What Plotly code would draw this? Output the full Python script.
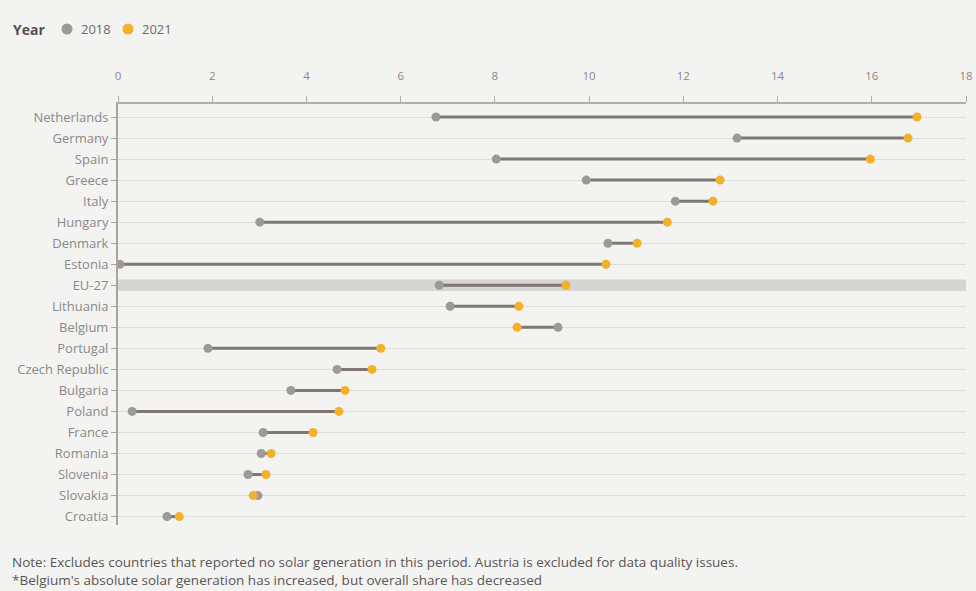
import plotly.graph_objects as go

countries = ["Netherlands", "Germany", "Spain", "Greece", "Italy", "Hungary", "Denmark",
             "Estonia", "EU-27", "Lithuania", "Belgium", "Portugal", "Czech Republic",
             "Bulgaria", "Poland", "France", "Romania", "Slovenia", "Slovakia", "Croatia"]
share_2018 = [6.75, 13.14, 8.03, 9.94, 11.83, 3.01, 10.40, 0.04, 6.82, 7.05, 9.34, 1.91,
              4.65, 3.67, 0.30, 3.08, 3.04, 2.76, 2.97, 1.04]
share_2021 = [16.96, 16.77, 15.97, 12.78, 12.63, 11.66, 11.02, 10.36, 9.51, 8.51, 8.47, 5.58,
              5.39, 4.82, 4.69, 4.14, 3.25, 3.14, 2.87, 1.30]
years = ["2018", "2021"]
highlight = "EU-27"
x_max = 18
tick_values = list(range(0, 20, 2))
note_lines = [
    "Note: Excludes countries that reported no solar generation in this period. Austria is excluded for data quality issues.",
    "*Belgium's absolute solar generation has increased, but overall share has decreased",
]

GRAY = "#9d9996"
ORANGE = "#f3b12a"
LINE = "#7d7674"
FONT = "Open Sans"

W, H = 976, 591
ML, MR, MT, MB = 118, 10, 104, 66
PW, PH = W - ML - MR, H - MT - MB


def px_to_paper_x(px):
    return (px - ML) / PW


def px_to_paper_y(py):
    return 1 - (py - MT) / PH


fig = go.Figure()

# highlight band for EU-27
fig.add_trace(go.Bar(
    y=[highlight], x=[x_max], base=[0], orientation="h",
    marker=dict(color="#d6d5d4", line=dict(width=0)), width=0.55,
    showlegend=False, hoverinfo="skip"))

# connecting segments
seg_x, seg_y = [], []
for c, a, b in zip(countries, share_2018, share_2021):
    seg_x += [a, b, None]
    seg_y += [c, c, None]
fig.add_trace(go.Scatter(x=seg_x, y=seg_y, mode="lines",
                         line=dict(color=LINE, width=3), showlegend=False, hoverinfo="skip"))

fig.add_trace(go.Scatter(x=share_2018, y=countries, mode="markers", name=years[0],
                         marker=dict(color=GRAY, size=9), showlegend=False))
fig.add_trace(go.Scatter(x=share_2021, y=countries, mode="markers", name=years[1],
                         marker=dict(color=ORANGE, size=9), showlegend=False))

fig.update_layout(
    width=W, height=H,
    margin=dict(l=ML, r=MR, t=MT, b=MB, autoexpand=False),
    paper_bgcolor="#f3f3f2", plot_bgcolor="#f3f3f2",
    font=dict(family=FONT, size=12, color="#888380"),
    barmode="overlay",
    showlegend=False,
    xaxis=dict(side="top", range=[0, x_max], tickvals=tick_values, showgrid=False,
               zeroline=False, showline=True, linecolor="#b3adab", linewidth=2,
               ticks="outside", ticklen=6, tickcolor="#b3adab", ticklabelstandoff=11,
               tickfont=dict(size=11.5, color="#8c8886"), automargin=False),
    yaxis=dict(categoryorder="array", categoryarray=countries, autorange=False,
               range=[19.4, -0.62], showgrid=True, gridcolor="#e1dcdc", gridwidth=1,
               zeroline=False, showline=True, linecolor="#a8a2a0", linewidth=2,
               ticks="outside", ticklen=5, tickcolor="#a8a2a0", automargin=False,
               tickfont=dict(size=13, color="#8c8886")),
)

# legend (manual, to match placement)
fig.add_annotation(text="<b>Year</b>", xref="paper", yref="paper", x=px_to_paper_x(11),
                   y=px_to_paper_y(29), xanchor="left", yanchor="middle", showarrow=False,
                   font=dict(size=14, color="#555150", family=FONT))
for yr, col, cx, tx in [(years[0], GRAY, 67, 79), (years[1], ORANGE, 128, 140)]:
    fig.add_shape(type="circle", xref="paper", yref="paper", xsizemode="pixel",
                  ysizemode="pixel", xanchor=px_to_paper_x(cx), yanchor=px_to_paper_y(29),
                  x0=-5.5, x1=5.5, y0=-5.5, y1=5.5, fillcolor=col, line=dict(width=0))
    fig.add_annotation(text=yr, xref="paper", yref="paper", x=px_to_paper_x(tx),
                       y=px_to_paper_y(29), xanchor="left", yanchor="middle", showarrow=False,
                       font=dict(size=13, color="#6f6a68", family=FONT))

fig.add_annotation(text="<br>".join(note_lines), xref="paper", yref="paper",
                   x=px_to_paper_x(10), y=px_to_paper_y(570.5), xanchor="left",
                   yanchor="middle", align="left", showarrow=False,
                   font=dict(size=13.5, color="#5a5552", family=FONT))

fig.write_html("out.html", config={"displayModeBar": False},
               post_script="document.body.style.margin='0';")
